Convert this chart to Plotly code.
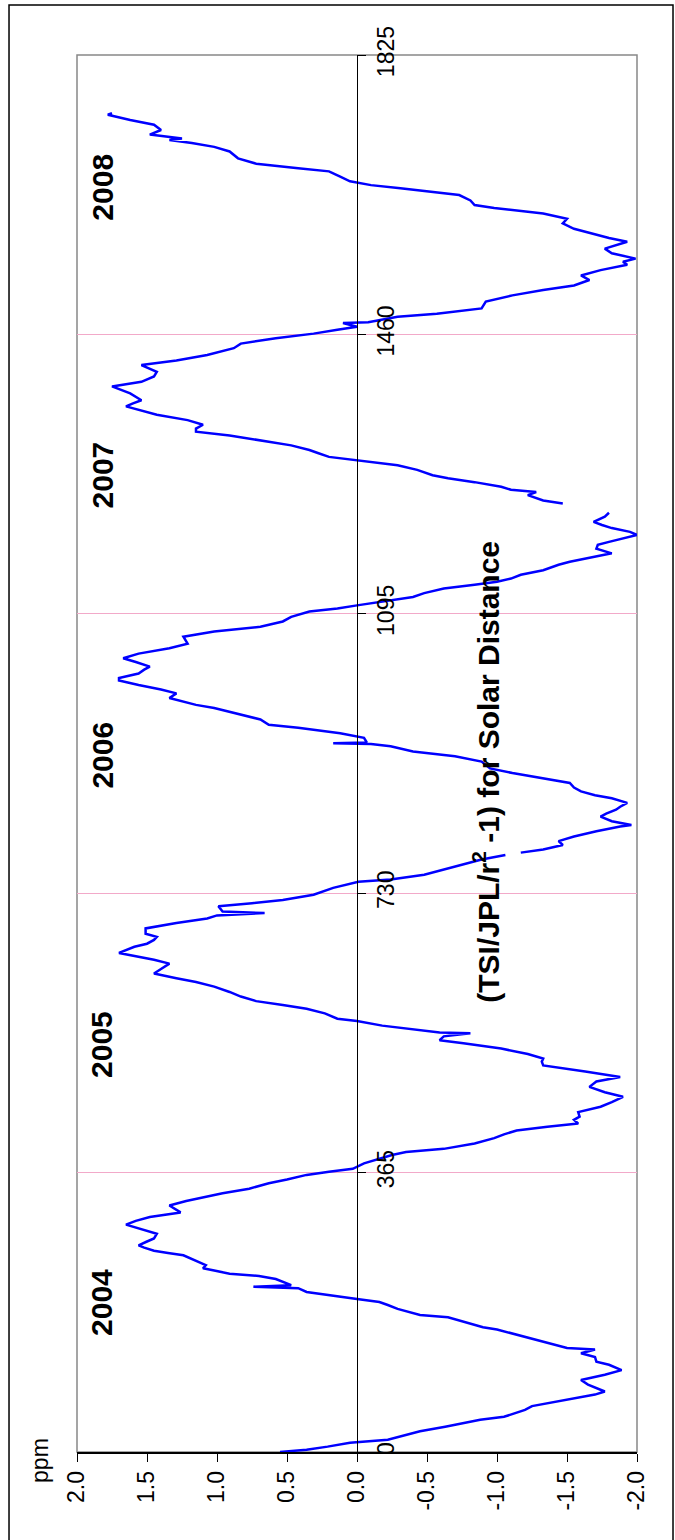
import plotly.graph_objects as go

# Day index (x of original chart) and ppm deviation (TSI/JPL/r^2 - 1)
days = [0, 3, 7, 12, 16, 24, 27, 33, 42, 46, 50, 55, 60, 65, 68, 72, 75, 79, 83, 88, 94, 101, 107, 114, 118, 124, 129, 134, 136, 141, 146, 150, 155, 160, 163, 168, 172, 176, 179, 183, 187, 192, 196, 200, 205, 209, 214, 216, 218, 222, 226, 230, 233, 237, 240, 244, 248, 252, 257, 260, 263, 267, 270, 275, 279, 285, 292, 297, 302, 307, 313, 318, 322, 328, 333, 338, 344, 351, 356, 362, 366, 370, 377, 383, 388, 392, 396, 403, 410, 415, 420, 425, 429, 434, 438, 444, 451, 457, 464, 470, 477, 484, 490, 497, 502, 505, 510, 514, 520, 527, 534, 538, 543, 547, 548, 551, 557, 563, 566, 573, 579, 584, 589, 595, 601, 608, 614, 619, 625, 631, 638, 643, 647, 652, 660, 664, 669, 673, 677, 684, 691, 697, 701, 704, 706, 713, 717, 721, 728, 737, 745, 748, 754, 761, 767, 774, 780, 782, 783, 787, 793, 798, 804, 811, 817, 819, 824, 830, 834, 839, 843, 848, 854, 858, 863, 868, 874, 880, 887, 893, 898, 902, 909, 915, 922, 925, 926, 927, 933, 939, 946, 950, 957, 961, 965, 972, 976, 981, 985, 991, 996, 1002, 1008, 1011, 1017, 1022, 1026, 1032, 1037, 1043, 1050, 1056, 1065, 1072, 1078, 1085, 1091, 1098, 1102, 1106, 1111, 1117, 1122, 1128, 1133, 1137, 1141, 1146, 1152, 1159, 1163, 1168, 1174, 1180, 1185, 1189, 1194, 1198, 1202, 1207, 1211, 1215, 1222, 1227, 1229, 1239, 1243, 1250, 1254, 1257, 1261, 1267, 1272, 1276, 1283, 1289, 1294, 1296, 1300, 1305, 1309, 1315, 1322, 1328, 1333, 1337, 1342, 1348, 1355, 1361, 1366, 1370, 1374, 1383, 1392, 1398, 1405, 1411, 1420, 1426, 1433, 1442, 1448, 1455, 1461, 1466, 1470, 1475, 1476, 1483, 1487, 1494, 1503, 1511, 1518, 1524, 1531, 1537, 1544, 1551, 1555, 1559, 1566, 1572, 1577, 1581, 1586, 1590, 1598, 1605, 1611, 1618, 1625, 1629, 1635, 1642, 1646, 1651, 1655, 1660, 1666, 1673, 1677, 1683, 1690, 1699, 1705, 1710, 1714, 1716, 1721, 1727, 1734, 1740, 1747, 1749]
ppm = [0.55, 0.36, 0.21, 0.05, -0.22, -0.38, -0.45, -0.63, -0.88, -1.05, -1.12, -1.20, -1.25, -1.40, -1.47, -1.60, -1.70, -1.77, -1.71, -1.65, -1.60, -1.77, -1.89, -1.80, -1.71, -1.70, -1.60, -1.70, -1.50, -1.40, -1.28, -1.20, -1.11, -1.00, -0.90, -0.80, -0.72, -0.65, -0.45, -0.36, -0.29, -0.22, -0.16, 0.00, 0.20, 0.36, 0.42, 0.74, 0.47, 0.52, 0.58, 0.70, 0.91, 1.02, 1.10, 1.08, 1.13, 1.18, 1.24, 1.35, 1.45, 1.52, 1.56, 1.50, 1.45, 1.43, 1.56, 1.65, 1.58, 1.48, 1.26, 1.30, 1.34, 1.22, 1.10, 0.96, 0.77, 0.63, 0.50, 0.36, 0.20, 0.03, -0.05, -0.16, -0.25, -0.35, -0.62, -0.84, -0.98, -1.05, -1.14, -1.36, -1.58, -1.55, -1.59, -1.58, -1.74, -1.82, -1.90, -1.77, -1.66, -1.71, -1.88, -1.63, -1.45, -1.33, -1.32, -1.33, -1.22, -1.03, -0.76, -0.59, -0.62, -0.81, -0.59, -0.46, -0.18, 0.00, 0.14, 0.23, 0.36, 0.53, 0.72, 0.83, 0.91, 1.02, 1.15, 1.29, 1.45, 1.40, 1.34, 1.45, 1.56, 1.70, 1.59, 1.50, 1.45, 1.43, 1.51, 1.51, 1.29, 1.07, 1.00, 0.66, 0.96, 0.99, 0.75, 0.53, 0.31, 0.17, -0.01, -0.24, -0.48, -0.62, -0.73, -0.89, -1.06, None, -1.17, -1.33, -1.47, -1.44, -1.55, -1.71, -1.88, -1.96, -1.82, -1.74, -1.78, -1.85, -1.88, -1.93, -1.82, -1.70, -1.60, -1.55, -1.52, -1.33, -1.11, -0.95, -0.92, -0.89, -0.70, -0.40, -0.24, -0.10, 0.17, -0.07, -0.05, 0.12, 0.42, 0.63, 0.69, 0.78, 0.88, 1.02, 1.15, 1.25, 1.34, 1.29, 1.40, 1.56, 1.70, 1.70, 1.56, 1.52, 1.48, 1.58, 1.67, 1.56, 1.34, 1.21, 1.24, 1.02, 0.69, 0.53, 0.47, 0.34, 0.14, 0.00, -0.18, -0.40, -0.48, -0.62, -0.84, -1.00, -1.10, -1.17, -1.33, -1.44, -1.52, -1.65, -1.82, -1.71, -1.72, -1.80, -1.90, -2.00, -1.95, -1.82, -1.75, -1.69, -1.77, -1.80, None, -1.47, -1.33, -1.22, -1.28, -1.10, -1.03, -0.84, -0.65, -0.54, -0.43, -0.29, -0.08, 0.00, 0.20, 0.28, 0.34, 0.47, 0.69, 0.91, 1.15, 1.15, 1.10, 1.21, 1.43, 1.56, 1.65, 1.60, 1.54, 1.62, 1.75, 1.54, 1.45, 1.43, 1.54, 1.29, 1.07, 0.88, 0.83, 0.58, 0.31, 0.14, 0.00, 0.10, -0.08, -0.29, -0.57, -0.89, -0.92, -1.11, -1.33, -1.55, -1.66, -1.60, -1.74, -1.93, -1.90, -1.99, -1.82, -1.77, -1.85, -1.93, -1.80, -1.71, -1.55, -1.47, -1.50, -1.33, -0.98, -0.84, -0.81, -0.73, -0.55, -0.31, -0.10, 0.05, 0.12, 0.20, 0.42, 0.72, 0.85, 0.91, 1.02, 1.18, 1.34, 1.25, 1.48, 1.40, 1.45, 1.62, 1.78, 1.75]

ppm_ticks = [2.0, 1.5, 1.0, 0.5, 0.0, -0.5, -1.0, -1.5, -2.0]
ppm_tick_text = ["2.0", "1.5", "1.0", "0.5", "0.0", "-0.5", "-1.0", "-1.5", "-2.0"]
day_ticks = [0, 365, 730, 1095, 1460, 1825]
year_labels = ["2004", "2005", "2006", "2007", "2008"]
year_days = [195, 532, 910, 1276, 1652]
year_ppm = 1.82

FONT = "Liberation Sans, Arial, sans-serif"

fig = go.Figure()
fig.add_trace(go.Scatter(
    x=ppm, y=days, mode="lines",
    line=dict(color="#0000FF", width=2.5),
    connectgaps=False, showlegend=False, hoverinfo="skip",
))

fig.update_layout(
    width=675, height=1540,
    margin=dict(l=77, r=38, t=55, b=88),
    paper_bgcolor="white", plot_bgcolor="white",
    font=dict(family=FONT, color="black"),
    xaxis=dict(
        range=[2, -2], tickvals=ppm_ticks, ticktext=ppm_tick_text,
        tickangle=-90, ticks="outside", ticklen=8, tickcolor="black",
        tickfont=dict(size=23), showline=True, linecolor="black", linewidth=1.5,
        showgrid=False, zeroline=False,
    ),
    yaxis=dict(
        range=[0, 1825], tickvals=day_ticks, ticktext=[str(d) for d in day_ticks],
        anchor="free", position=0.5, side="right",
        tickangle=-90, ticks="outside", ticklen=8, tickcolor="black",
        tickfont=dict(size=23), showline=True, linecolor="black", linewidth=1,
        showgrid=True, gridcolor="#F2A9C9", gridwidth=1, zeroline=False,
    ),
)

# plot frame
fig.add_shape(type="rect", xref="paper", yref="paper", x0=0, x1=1, y0=0, y1=1,
              line=dict(color="#888888", width=1.5), layer="below")
# outer chart frame
fig.add_shape(type="rect", xref="paper", yref="paper", x0=-0.1214, x1=1.0643,
              y0=-0.08, y1=1.0358, line=dict(color="black", width=1.5))

for lab, d in zip(year_labels, year_days):
    fig.add_annotation(x=year_ppm, y=d, xref="x", yref="y", text=f"<b>{lab}</b>",
                       textangle=-90, showarrow=False,
                       font=dict(size=30, family=FONT, color="black"))

fig.add_annotation(x=0.768, y=0.487, xref="paper", yref="paper",
                   text="<b>(TSI/JPL/r<sup>2</sup> -1) for Solar Distance</b>",
                   textangle=-90, showarrow=False,
                   font=dict(size=30, family=FONT, color="black"))

fig.add_annotation(x=-0.092, y=-0.0236, xref="paper", yref="paper", text="ppm",
                   textangle=-90, showarrow=False,
                   font=dict(size=23, family=FONT, color="black"))

fig.write_html("out.html")
